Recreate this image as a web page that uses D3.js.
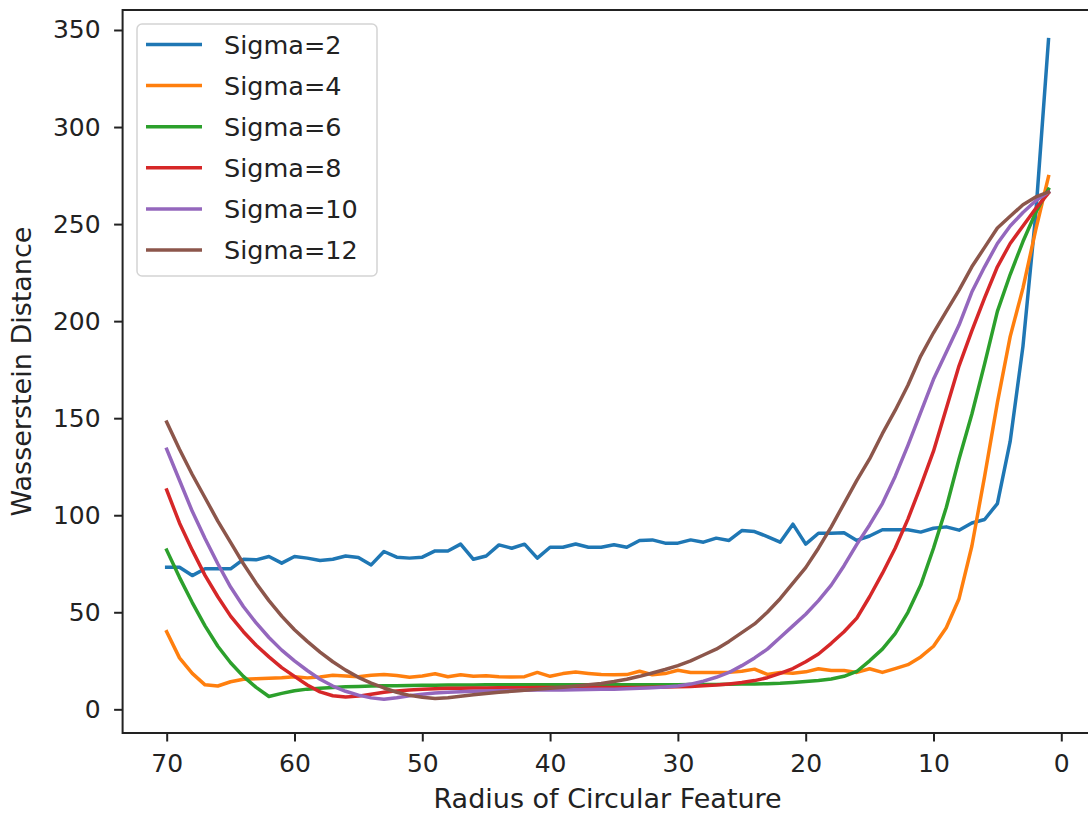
<!DOCTYPE html>
<html>
<head>
<meta charset="utf-8">
<script src="https://cdn.jsdelivr.net/npm/d3@7"></script>
<style>
  body { margin: 0; background: #fff; }
  text { font-family: 'DejaVu Sans', sans-serif; fill: #222; }
</style>
</head>
<body>
<div id="chart"></div>
<script>
// radius of the circular feature, one point per unit, read left to right
const radius = [70, 69, 68, 67, 66, 65, 64, 63, 62, 61, 60, 59, 58, 57, 56, 55, 54, 53, 52, 51,
  50, 49, 48, 47, 46, 45, 44, 43, 42, 41, 40, 39, 38, 37, 36, 35, 34, 33, 32, 31,
  30, 29, 28, 27, 26, 25, 24, 23, 22, 21, 20, 19, 18, 17, 16, 15, 14, 13, 12, 11,
  10, 9, 8, 7, 6, 5, 4, 3, 2, 1];

const sigma2 = [73.2, 73.2, 68.9, 72.4, 72.4, 72.4, 77.3, 77.0, 78.7, 75.3, 78.7, 77.9, 76.7, 77.3, 79.0, 78.2, 74.4, 81.3, 78.4, 77.9,
  78.4, 81.6, 81.6, 85.1, 77.3, 79.0, 84.7, 83.0, 85.1, 77.9, 83.5, 83.5, 85.2, 83.5, 83.5, 84.8, 83.5, 87.0, 87.3, 85.6,
  85.6, 87.3, 86.1, 88.2, 87.0, 92.1, 91.6, 89.0, 86.1, 95.4, 85.1, 90.7, 90.7, 91.0, 87.0, 89.3, 92.5, 92.5, 92.5, 91.3,
  93.3, 94.0, 92.3, 96.0, 97.8, 106, 138, 187, 255, 345];

const sigma4 = [40, 26.5, 18.5, 12.6, 12.0, 14.2, 15.5, 15.8, 16.0, 16.3, 16.8, 16.2, 16.6, 17.5, 17.2, 16.8, 17.5, 18.0, 17.4, 16.5,
  17.2, 18.3, 16.8, 17.8, 17.0, 17.3, 16.8, 16.6, 16.8, 19.0, 17.0, 18.4, 19.2, 18.5, 17.9, 17.8, 17.9, 19.6, 17.8, 18.4,
  20.1, 19.0, 19.0, 19.0, 19.1, 19.6, 20.7, 18.0, 19.0, 18.6, 19.3, 20.9, 20.0, 20.0, 19.0, 20.9, 19.0, 21.0, 23.0, 27.0,
  32.5, 42, 57, 84, 120, 158, 192, 217, 247, 274.5];

const sigma6 = [82, 68, 55, 43, 32.5, 24, 17, 11.3, 6.6, 8.2, 9.6, 10.4, 10.9, 11.3, 11.6, 11.8, 12.0, 12.1, 12.2, 12.3,
  12.4, 12.4, 12.5, 12.5, 12.5, 12.6, 12.6, 12.6, 12.6, 12.6, 12.6, 12.6, 12.6, 12.6, 12.6, 12.7, 12.7, 12.7, 12.7, 12.7,
  12.7, 12.8, 12.8, 12.8, 12.9, 13.0, 13.1, 13.2, 13.4, 13.8, 14.3, 14.8, 15.6, 17.0, 19.5, 25, 31, 39, 50, 64,
  83, 104, 129, 152, 178, 205, 224, 241, 256, 268];

const sigma8 = [113, 96, 82, 69, 58, 48, 40, 33, 27, 21.5, 17, 12.5, 9, 7, 6.3, 6.8, 7.8, 8.8, 9.5, 10.0,
  10.4, 10.6, 10.8, 10.9, 11.0, 11.0, 11.1, 11.1, 11.1, 11.2, 11.2, 11.2, 11.2, 11.2, 11.2, 11.2, 11.3, 11.3, 11.4, 11.5,
  11.6, 11.8, 12.1, 12.5, 13.1, 13.8, 14.8, 16.3, 18.5, 21, 24.5, 28.5, 34, 40, 47, 58, 70, 83, 98, 115,
  133, 155, 177, 195, 212, 228, 240, 249, 258, 266];

const sigma10 = [134, 118, 102, 88, 75, 63, 53, 44.5, 37, 30.5, 25, 20, 15.5, 12, 9.3, 7.3, 5.9, 5.2, 6.0, 7.0,
  7.8, 8.4, 8.8, 9.1, 9.3, 9.5, 9.6, 9.7, 9.8, 9.9, 10.0, 10.0, 10.1, 10.2, 10.3, 10.4, 10.6, 10.8, 11.1, 11.5,
  12.0, 13.0, 14.5, 16.5, 19.0, 22.5, 26.5, 31, 37, 43, 49, 56, 64, 74, 85, 95, 106, 120, 136, 153,
  170, 184, 198, 215, 228, 240, 249, 256, 262, 266.5];

const sigma12 = [148, 134, 121, 109, 97, 86, 75, 65, 56, 48, 41, 35, 29.5, 24.5, 20.2, 16.5, 13.5, 11, 8.8, 7.2,
  6.2, 5.6, 6.0, 6.7, 7.5, 8.2, 8.8, 9.3, 9.8, 10.3, 10.8, 11.4, 12.0, 12.6, 13.3, 14.3, 15.5, 17.0, 18.7, 20.5,
  22.5, 25, 28, 31, 35, 39.5, 44, 50, 57, 65, 73, 83, 94, 106, 118, 129, 142, 154, 167, 182,
  194, 205, 216, 228, 238, 248, 254, 260, 264, 266.5];

const seriesNames = ['Sigma=2', 'Sigma=4', 'Sigma=6', 'Sigma=8', 'Sigma=10', 'Sigma=12'];
const seriesValues = [sigma2, sigma4, sigma6, sigma8, sigma10, sigma12];
const seriesColors = ['#1f77b4', '#ff7f0e', '#2ca02c', '#d62728', '#9467bd', '#8c564b'];

const xTicks = [70, 60, 50, 40, 30, 20, 10, 0];
const yTicks = [0, 50, 100, 150, 200, 250, 300, 350];

const width = 1088,
  height = 814;

// plot box in page pixels (right edge runs just past the picture)
const plot = {
  left: 122.6,
  right: 1092.6,
  top: 10,
  bottom: 733
};

//SVG container
const svg = d3.select('#chart')
  .append('svg')
  .attr('width', width)
  .attr('height', height)
  .style('background', '#fff');

const x = d3.scaleLinear()
  .domain([73.45, -2.45])
  .range([plot.left, plot.right]);

const y = d3.scaleLinear()
  .domain([-12.2, 360.3])
  .range([plot.bottom, plot.top]);

const series = seriesNames.map(function (name, i) {
  return {
    name: name,
    color: seriesColors[i],
    points: radius.map(function (r, j) {
      return { r: r, v: seriesValues[i][j] };
    })
  };
});

///////////////////////////////////////////////////////////////////////////
///////////////////////////////// Axes ////////////////////////////////////
///////////////////////////////////////////////////////////////////////////

const xAxis = svg.append('g')
  .attr('transform', 'translate(0,' + plot.bottom + ')')
  .call(d3.axisBottom(x).tickValues(xTicks).tickSize(8.5).tickPadding(12.5).tickSizeOuter(0));

const yAxis = svg.append('g')
  .attr('transform', 'translate(' + plot.left + ',0)')
  .call(d3.axisLeft(y).tickValues(yTicks).tickSize(8.5).tickPadding(13.5).tickSizeOuter(0));

[xAxis, yAxis].forEach(function (a) {
  a.select('.domain').remove();
  a.selectAll('.tick line').attr('stroke', '#222').attr('stroke-width', 2);
  a.selectAll('.tick text')
    .style('font-family', "'DejaVu Sans', sans-serif")
    .style('font-size', '25px')
    .attr('fill', '#222');
});

///////////////////////////////////////////////////////////////////////////
///////////////////////////////// Lines ///////////////////////////////////
///////////////////////////////////////////////////////////////////////////

const line = d3.line()
  .x(function (d) {
    return x(d.r);
  })
  .y(function (d) {
    return y(d.v);
  });

svg.append('g')
  .attr('class', 'lines')
  .selectAll('path')
  .data(series)
  .enter().append('path')
  .attr('d', function (d) {
    return line(d.points);
  })
  .attr('fill', 'none')
  .attr('stroke', function (d) {
    return d.color;
  })
  .attr('stroke-width', 3.5)
  .attr('stroke-linejoin', 'round')
  .attr('stroke-linecap', 'square');

//spines
svg.append('rect')
  .attr('x', plot.left)
  .attr('y', plot.top)
  .attr('width', plot.right - plot.left)
  .attr('height', plot.bottom - plot.top)
  .attr('fill', 'none')
  .attr('stroke', '#222')
  .attr('stroke-width', 2);

//axis titles
svg.append('text')
  .attr('x', (plot.left + plot.right) / 2)
  .attr('y', 808)
  .attr('text-anchor', 'middle')
  .style('font-size', '27px')
  .text('Radius of Circular Feature');

svg.append('text')
  .attr('transform', 'translate(31,' + ((plot.top + plot.bottom) / 2) + ') rotate(-90)')
  .attr('text-anchor', 'middle')
  .style('font-size', '27px')
  .text('Wasserstein Distance');

///////////////////////////////////////////////////////////////////////////
//////////////////////////////// Legend ///////////////////////////////////
///////////////////////////////////////////////////////////////////////////

const legend = svg.append('g')
  .attr('class', 'legend');

legend.append('rect')
  .attr('x', 137)
  .attr('y', 24)
  .attr('width', 240)
  .attr('height', 252)
  .attr('rx', 5)
  .attr('fill', '#fff')
  .attr('fill-opacity', 0.8)
  .attr('stroke', '#d4d4d4')
  .attr('stroke-width', 1.5);

const legendRow = legend.selectAll('.legendRow')
  .data(series)
  .enter().append('g')
  .attr('class', 'legendRow')
  .attr('transform', function (d, i) {
    return 'translate(0,' + (44.5 + i * 41.1) + ')';
  });

legendRow.append('line')
  .attr('x1', 146)
  .attr('x2', 202)
  .attr('stroke', function (d) {
    return d.color;
  })
  .attr('stroke-width', 3.5);

legendRow.append('text')
  .attr('x', 224)
  .attr('y', 9)
  .style('font-size', '25.5px')
  .text(function (d) {
    return d.name;
  });
</script>
</body>
</html>
